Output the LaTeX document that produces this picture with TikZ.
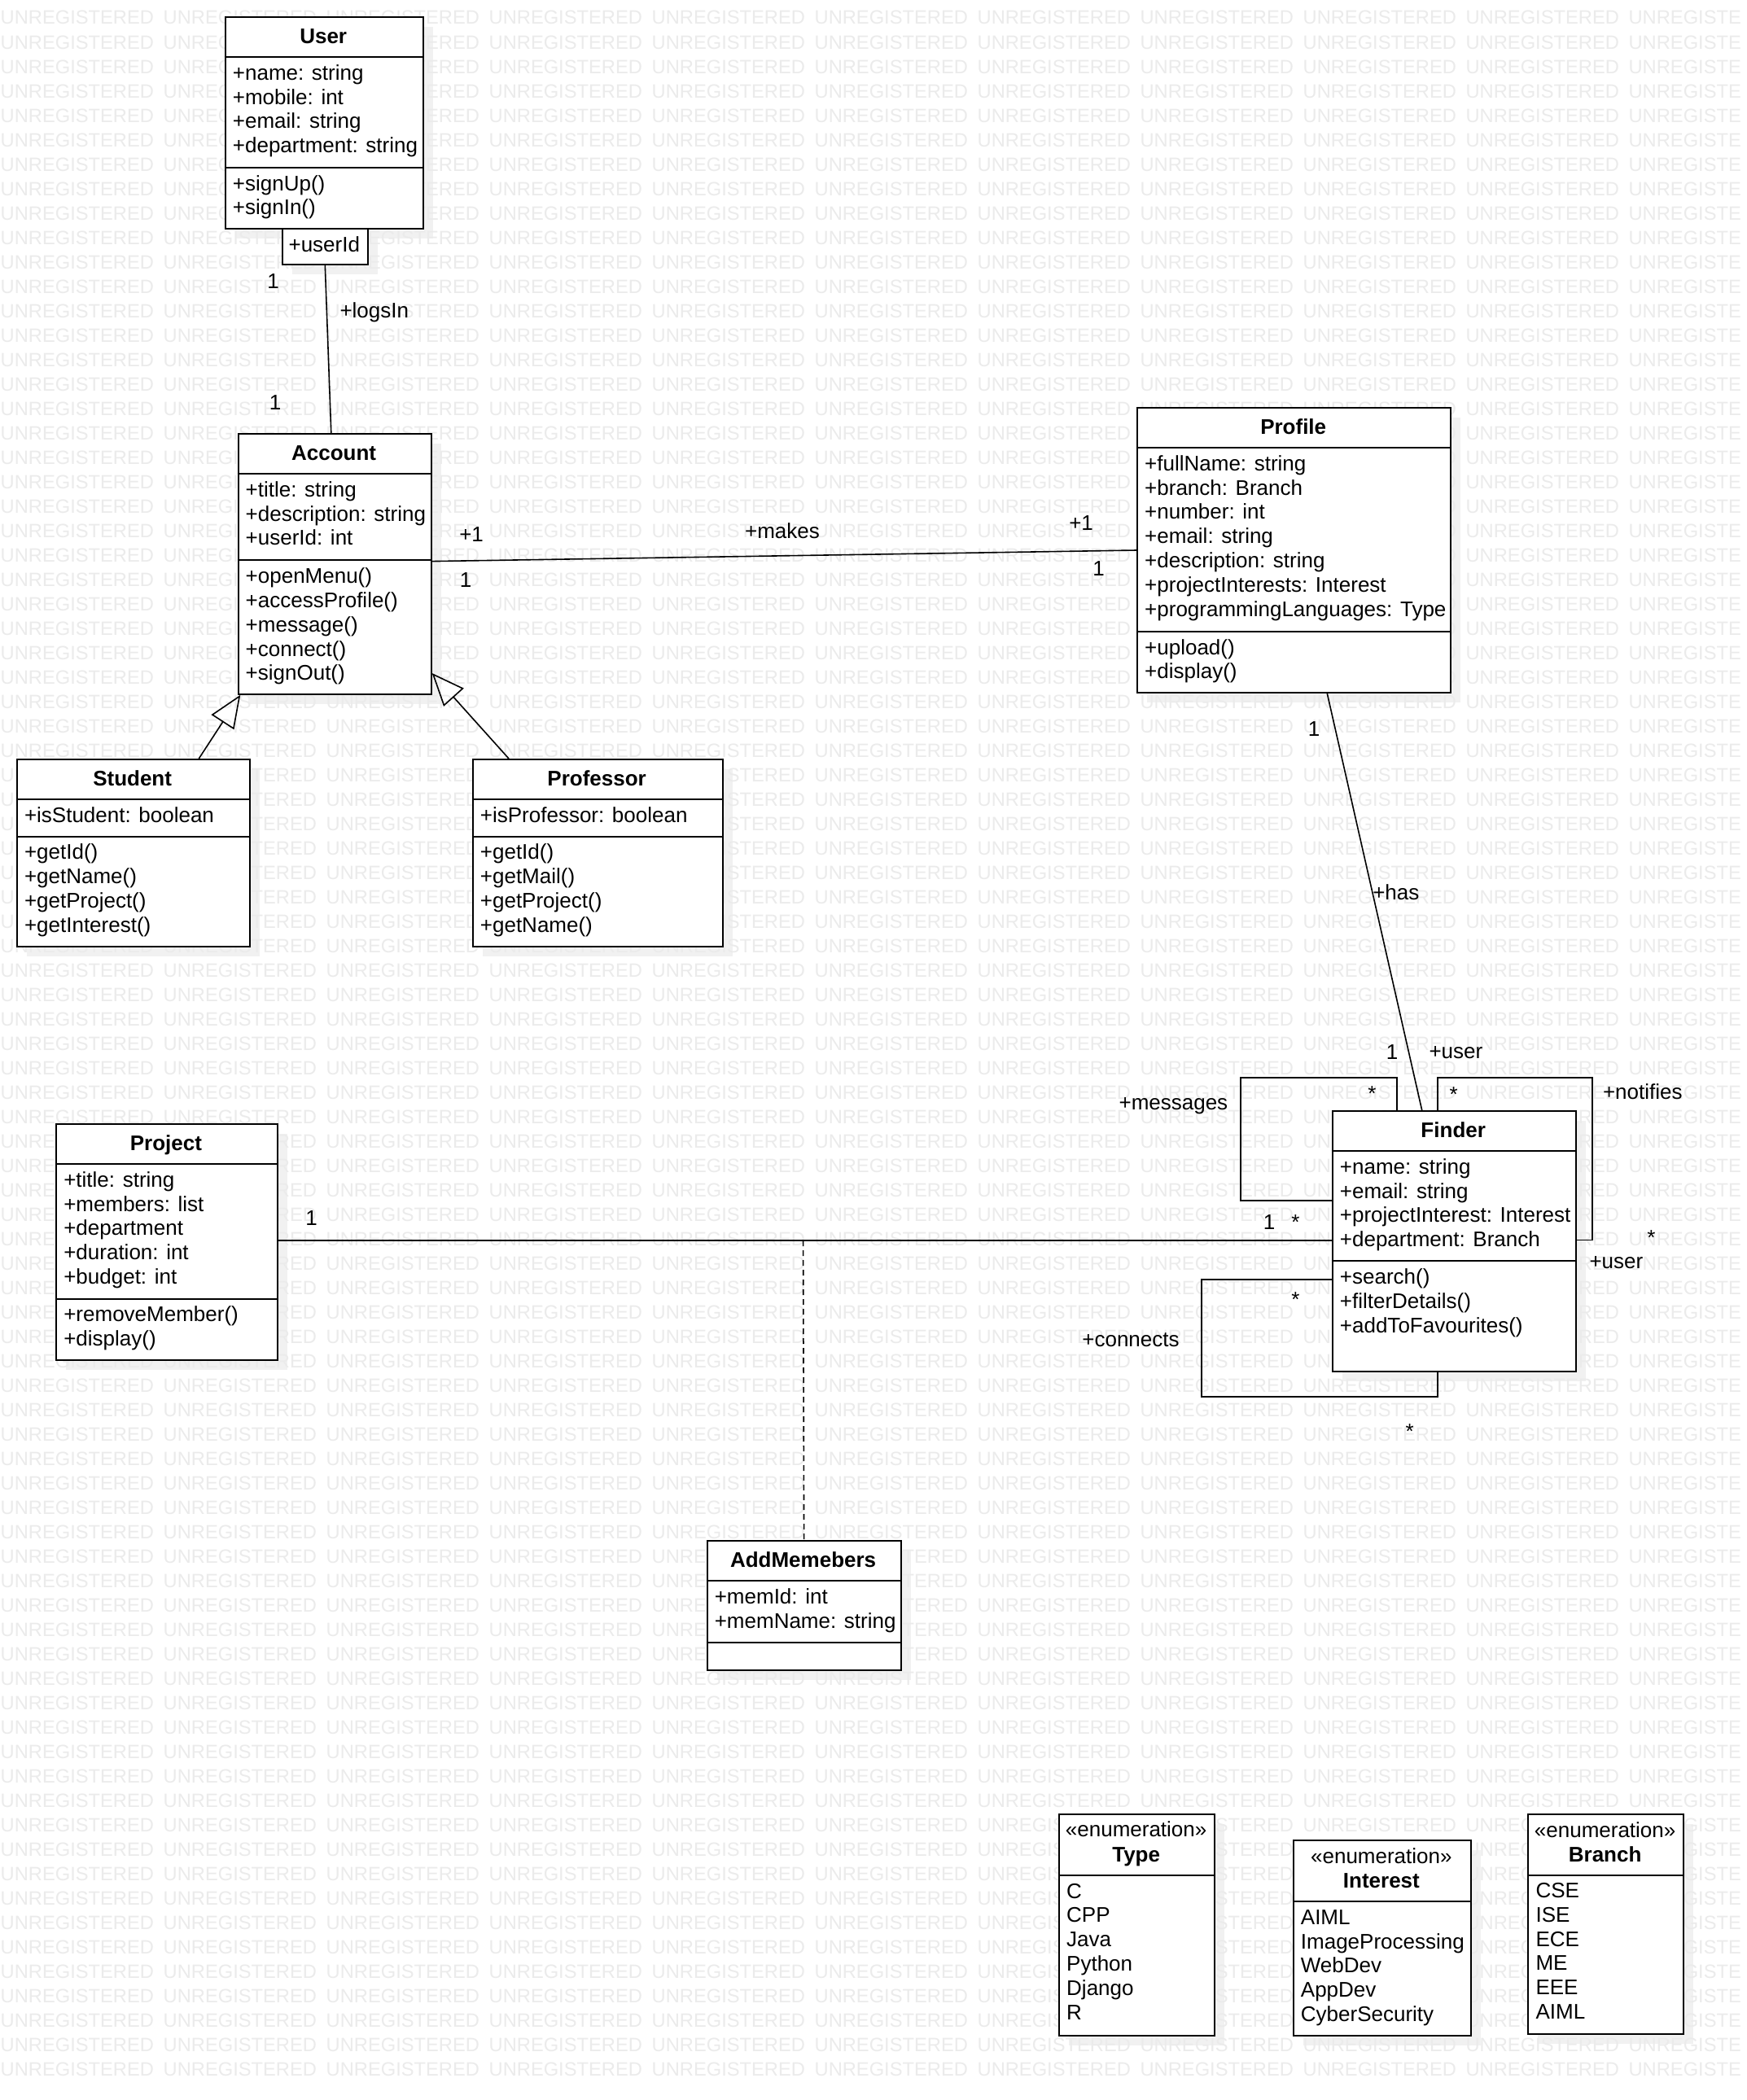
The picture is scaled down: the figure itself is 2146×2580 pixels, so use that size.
\documentclass[tikz,border=0pt]{standalone}
\usepackage{fontspec}
\setmainfont{Liberation Sans}
\usetikzlibrary{arrows.meta}
\definecolor{wmgray}{HTML}{EBEBEB}
\definecolor{shadowgray}{HTML}{F1F1F1}
\tikzset{
  box/.style={draw=black, fill=white, line width=2pt, inner sep=0pt, anchor=north west},
  txt/.style={font=\fontsize{26}{29.8}\selectfont, inner sep=0pt, anchor=base west},
  ttl/.style={font=\fontsize{26}{29.8}\selectfont\bfseries, inner sep=0pt, anchor=base},
  stereo/.style={font=\fontsize{26}{29.8}\selectfont, inner sep=0pt, anchor=base},
  lbl/.style={font=\fontsize{26}{29.8}\selectfont, inner sep=0pt, anchor=center},
  conn/.style={line width=1.6pt, draw=black},
  gen/.style={conn, -{Triangle[open, length=40pt, width=33pt]}},
  divider/.style={line width=2pt},
  wm/.style={font=\fontsize{23.7}{24}\selectfont, text=wmgray, inner sep=0pt, anchor=base west},
}
\newcommand\wmword{\makebox[200pt][l]{UNREGISTERED}}
\newcommand\wmrow{\wmword\wmword\wmword\wmword\wmword\wmword\wmword\wmword\wmword\wmword UNREGISTE}
\newcommand\umlbox[5]{\node[box, minimum width=#4pt, minimum height=#5pt] (#1) at (#2,#3) {};}
\newcommand\umldiv[2]{\draw[divider] ([yshift=-#2pt]#1.north west) -- ([yshift=-#2pt]#1.north east);}
\newcommand\umltext[4]{\foreach \t [count=\i] in {#4} {\node[txt] (#1\i) at (#2,{#3+29.8*(\i-1)}) {\t};}}
\begin{document}
\begin{tikzpicture}[x=1pt,y=-1pt]
\useasboundingbox (0,0) rectangle (2146,2580);
\fill[white] (0,0) rectangle (2146,2580);
% shadows
\foreach \l/\t/\r/\b in {275.7/20/518.7/280, 345.6/280/451/324, 291.5/532/528.7/851.7,
  19.8/932/305.5/1161.5, 579.7/932/886.5/1161.5, 1396/500/1781.4/850,
  1635.7/1364/1934.7/1683.6, 68.1/1380/339.7/1669.6, 867.6/1892.4/1105.6/2050.5,
  1300/2227.7/1491.3/2499.7, 1587.7/2260/1806/2499.7, 1876.3/2228/2067/2497.7}
  {\fill[shadowgray] (\l+13,\t+13) rectangle (\r+13,\b+13);}
% watermark
\begin{scope}
\clip (0,0) rectangle (2146,2580);
\foreach \k in {1,...,85} {\node[wm] (wm\k) at (0.5,30*\k) {\wmrow};}
\end{scope}

% ---------- User ----------
\umlbox{user}{275.7}{20}{243}{260}
\umldiv{user}{50}\umldiv{user}{185.7}
\node[ttl] (user-t) at (397.2,53) {User};
\umltext{user-a}{285.7}{98.3}{+name: string,+mobile: int,+email: string,+department: string}
\umltext{user-m}{285.7}{234}{+signUp(),+signIn()}
\umlbox{userid}{345.6}{280}{105.4}{44}
\node[lbl] (userid-t) at (398.3,300) {+userId};

% ---------- Account ----------
\umlbox{account}{291.5}{532}{237.2}{319.7}
\umldiv{account}{50}\umldiv{account}{156.3}
\node[ttl] (account-t) at (410.1,565) {Account};
\umltext{account-a}{301.5}{610.3}{+title: string,+description: string,+userId: int}
\umltext{account-m}{301.5}{716.6}{+openMenu(),+accessProfile(),+message(),+connect(),+signOut()}

% ---------- Student ----------
\umlbox{student}{19.8}{932}{285.7}{229.5}
\umldiv{student}{50}\umldiv{student}{95.6}
\node[ttl] (student-t) at (162.65,965) {Student};
\umltext{student-a}{29.8}{1010.3}{+isStudent: boolean}
\umltext{student-m}{29.8}{1055.9}{+getId(),+getName(),+getProject(),+getInterest()}

% ---------- Professor ----------
\umlbox{professor}{579.7}{932}{306.8}{229.5}
\umldiv{professor}{50}\umldiv{professor}{95.6}
\node[ttl] (professor-t) at (733.1,965) {Professor};
\umltext{professor-a}{589.7}{1010.3}{+isProfessor: boolean}
\umltext{professor-m}{589.7}{1055.9}{+getId(),+getMail(),+getProject(),+getName()}

% ---------- Profile ----------
\umlbox{profile}{1396}{500}{385.4}{350}
\umldiv{profile}{50}\umldiv{profile}{275.7}
\node[ttl] (profile-t) at (1588.7,533) {Profile};
\umltext{profile-a}{1406}{578.3}{+fullName: string,+branch: Branch,+number: int,+email: string,+description: string,+projectInterests: Interest,+programmingLanguages: Type}
\umltext{profile-m}{1406}{804}{+upload(),+display()}

% ---------- Finder ----------
\umlbox{finder}{1635.7}{1364}{299}{319.6}
\umldiv{finder}{50}\umldiv{finder}{185.3}
\node[ttl] (finder-t) at (1785.2,1397) {Finder};
\umltext{finder-a}{1645.7}{1442.3}{+name: string,+email: string,+projectInterest: Interest,+department: Branch}
\umltext{finder-m}{1645.7}{1577.6}{+search(),+filterDetails(),+addToFavourites()}

% ---------- Project ----------
\umlbox{project}{68.1}{1380}{271.6}{289.6}
\umldiv{project}{50}\umldiv{project}{215.5}
\node[ttl] (project-t) at (203.9,1413) {Project};
\umltext{project-a}{78.1}{1458.3}{+title: string,+members: list,+department,+duration: int,+budget: int}
\umltext{project-m}{78.1}{1623.8}{+removeMember(),+display()}

% ---------- AddMemebers ----------
\umlbox{addmem}{867.6}{1892.4}{238}{158.1}
\umldiv{addmem}{50}\umldiv{addmem}{125.9}
\node[ttl] (addmem-t) at (986.6,1925.4) {AddMemebers};
\umltext{addmem-a}{877.6}{1970.7}{+memId: int,+memName: string}

% ---------- Enumerations ----------
\umlbox{typeenum}{1300}{2227.7}{191.3}{272}
\umldiv{typeenum}{76.3}
\node[stereo] (typeenum-s) at (1395.65,2256.7) {«enumeration»};
\node[ttl] (typeenum-t) at (1395.65,2287.3) {Type};
\umltext{typeenum-i}{1310}{2332}{C,CPP,Java,Python,Django,R}

\umlbox{interest}{1587.7}{2260}{218.3}{239.7}
\umldiv{interest}{76}
\node[stereo] (interest-s) at (1696.85,2289) {«enumeration»};
\node[ttl] (interest-t) at (1696.85,2319.6) {Interest};
\umltext{interest-i}{1597.7}{2364.3}{AIML,ImageProcessing,WebDev,AppDev,CyberSecurity}

\umlbox{branch}{1876.3}{2228}{190.7}{269.7}
\umldiv{branch}{75.5}
\node[stereo] (branch-s) at (1971.65,2257) {«enumeration»};
\node[ttl] (branch-t) at (1971.65,2287.6) {Branch};
\umltext{branch-i}{1886.3}{2331.5}{CSE,ISE,ECE,ME,EEE,AIML}

% ---------- Connectors ----------
\draw[conn] (userid.south) -- ([xshift=-4.3pt]account.north);
\draw[conn] ([yshift=-157.6pt]account.north east) -- ([yshift=-176pt]profile.north west);
\draw[gen] ([xshift=224.5pt]student.north west) -- ([xshift=3.8pt]account.south west);
\draw[gen] ([xshift=45.3pt]professor.north west) -- ([yshift=26.7pt]account.south east);
\draw[conn] ([xshift=234.3pt]profile.south west) -- ([xshift=111pt]finder.north west);
\coordinate (msgc) at (1524,1324);
\draw[conn] ([xshift=80.3pt]finder.north west) |- (msgc) |- ([yshift=-111pt]finder.north west);
\coordinate (notc) at (1956,1324);
\draw[conn] ([xshift=130pt]finder.north west) |- (notc) |- ([yshift=-159.3pt]finder.north east);
\coordinate (conc) at (1476,1715.7);
\draw[conn] ([yshift=-207.7pt]finder.north west) -| (conc) -| ([xshift=130pt]finder.south west);
\draw[conn] ([yshift=-144.1pt]project.north east) -- ([yshift=-160.1pt]finder.north west);
\coordinate (assoc) at (986.6,1524.1);
\draw[conn, dash pattern=on 7pt off 5pt] (assoc) -- (addmem.north);

% ---------- Labels ----------
\node[lbl] (l-logs1) at (335.7,345.7) {1};
\node[lbl] (l-logsin) at (459.8,384) {+logsIn};
\node[lbl] (l-logs2) at (338,494.6) {1};
\node[lbl] (l-mk1) at (579.1,656.2) {+1};
\node[lbl] (l-mk2) at (572,712.9) {1};
\node[lbl] (l-makes) at (961,652) {+makes};
\node[lbl] (l-mk3) at (1328.1,642.7) {+1};
\node[lbl] (l-mk4) at (1349.6,698.3) {1};
\node[lbl] (l-has1) at (1614.1,896) {1};
\node[lbl] (l-has) at (1714.8,1096) {+has};
\node[lbl] (l-has2) at (1710.1,1292.9) {1};
\node[lbl] (l-user1) at (1788.4,1292.9) {+user};
\node[lbl] (l-msg) at (1441.4,1359) {+messages};
\node[lbl] (l-msgstar) at (1685.3,1344) {*};
\node[lbl] (l-notstar) at (1785.7,1344.8) {*};
\node[lbl] (l-notifies) at (2017.8,1341) {+notifies};
\node[lbl] (l-notstar2) at (2028.5,1520.5) {*};
\node[lbl] (l-user2) at (1985.4,1551) {+user};
\node[lbl] (l-pf1) at (382.6,1496.4) {1};
\node[lbl] (l-pf2) at (1559,1501.8) {1};
\node[lbl] (l-pfstar) at (1591.4,1501.2) {*};
\node[lbl] (l-constar1) at (1591.4,1596.5) {*};
\node[lbl] (l-connects) at (1389,1646) {+connects};
\node[lbl] (l-constar2) at (1731.7,1759) {*};
\end{tikzpicture}
\end{document}
